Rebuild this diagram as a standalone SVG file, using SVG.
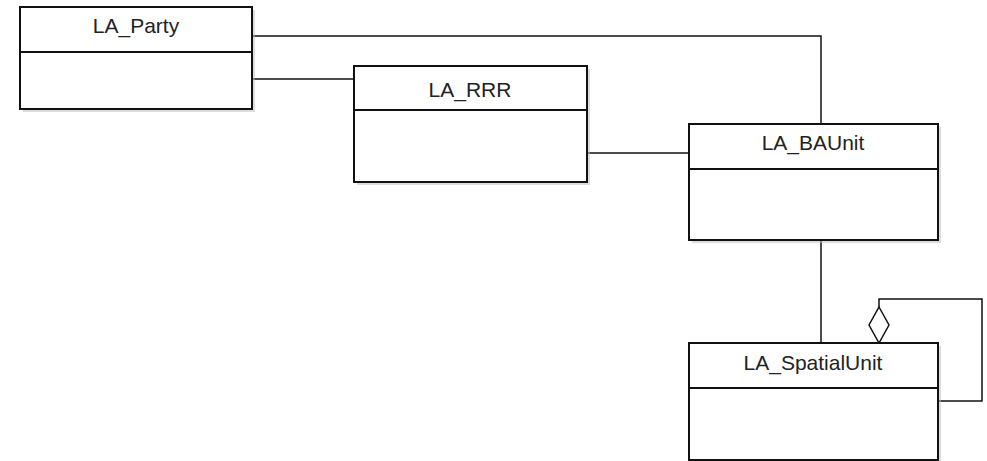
<svg xmlns="http://www.w3.org/2000/svg" width="987" height="461" viewBox="0 0 987 461">
<style>
.box{fill:#fff;stroke:#111;stroke-width:2}
.shadow{fill:#bbb;opacity:0.5}
.div{stroke:#111;stroke-width:2}
.t{font-family:"Liberation Sans",Arial,sans-serif;font-size:21px;fill:#222;text-anchor:middle}
.c{fill:none;stroke:#111;stroke-width:1.5}
</style>
<rect width="987" height="461" fill="#fff"/>
<g id="connectors">
<polyline class="c" points="252,36 821,36 821,124"/>
<line class="c" x1="252" y1="79" x2="355" y2="79"/>
<line class="c" x1="587" y1="153" x2="690" y2="153"/>
<line class="c" x1="821" y1="240" x2="821" y2="343"/>
<polyline class="c" points="879,307 879,299 982,299 982,401 938,401"/>
<polygon points="879,307 889,325 879,343 869,325" fill="#fff" stroke="#111" stroke-width="1.5"/>
</g>
<g id="LA_Party">
<rect class="shadow" x="23" y="10" width="232" height="102"/>
<rect class="box" x="20" y="7" width="232" height="102"/>
<line class="div" x1="20" y1="52" x2="252" y2="52"/>
<text class="t" x="136" y="33">LA_Party</text>
</g>
<g id="LA_RRR">
<rect class="shadow" x="357" y="69" width="233" height="116"/>
<rect class="box" x="354" y="66" width="233" height="116"/>
<line class="div" x1="354" y1="110" x2="587" y2="110"/>
<text class="t" x="470" y="97">LA_RRR</text>
</g>
<g id="LA_BAUnit">
<rect class="shadow" x="692" y="127" width="249" height="116"/>
<rect class="box" x="689" y="124" width="249" height="116"/>
<line class="div" x1="689" y1="169" x2="938" y2="169"/>
<text class="t" x="813" y="150">LA_BAUnit</text>
</g>
<g id="LA_SpatialUnit">
<rect class="shadow" x="692" y="346" width="249" height="117"/>
<rect class="box" x="689" y="343" width="249" height="117"/>
<line class="div" x1="689" y1="388" x2="938" y2="388"/>
<text class="t" x="813" y="370">LA_SpatialUnit</text>
</g>
</svg>
